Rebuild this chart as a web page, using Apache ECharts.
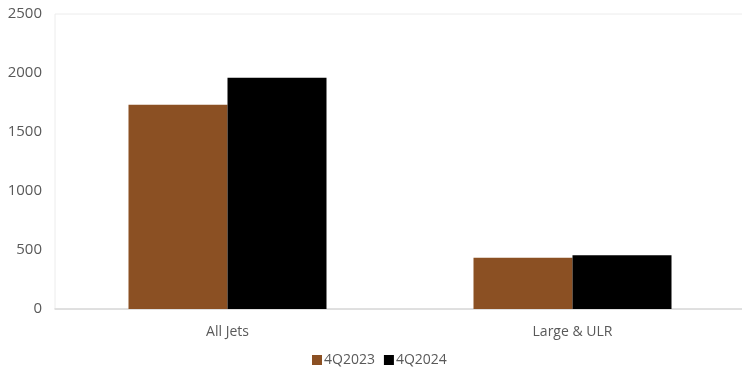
<!DOCTYPE html>
<html>
<head>
<meta charset="utf-8">
<script src="https://cdn.jsdelivr.net/npm/echarts@6/dist/echarts.min.js"></script>
<style>
  html, body { margin: 0; padding: 0; background: #fff; }
  #chart { width: 742px; height: 369px; }
</style>
</head>
<body>
<div id="chart"></div>
<script>
const categories = ["All Jets", "Large & ULR"];
const seriesNames = ["4Q2023", "4Q2024"];
const values2023 = [1730, 435];
const values2024 = [1960, 455];
const yTicks = [0, 500, 1000, 1500, 2000, 2500];

const chart = echarts.init(document.getElementById("chart"));
const font = "'Open Sans', sans-serif";

const option = {
  animation: false,
  textStyle: { fontFamily: font },
  legend: {
    bottom: -3,
    left: 307,
    itemWidth: 10,
    itemHeight: 10,
    itemGap: 9,
    icon: "rect",
    textStyle: { color: "#595959", fontSize: 14, fontFamily: font, padding: [0, 0, 0, -3] },
    data: seriesNames,
  },
  grid: {
    top: 14,
    left: 55,
    right: -3,
    bottom: 60,
    outerBoundsMode: "none",
    show: true,
    borderColor: "#ececec",
    borderWidth: 1,
  },
  xAxis: {
    type: "category",
    data: categories,
    axisLine: { lineStyle: { color: "#d9d9d9", width: 1.5 } },
    axisTick: { show: false },
    axisLabel: { color: "#595959", fontSize: 14, margin: 16, fontFamily: font },
  },
  yAxis: {
    type: "value",
    min: yTicks[0],
    max: yTicks[yTicks.length - 1],
    interval: 500,
    splitLine: { show: false },
    axisLine: { show: false },
    axisTick: { show: false },
    axisLabel: {
      color: "#595959",
      fontSize: 15,
      margin: 13,
      padding: [4, 0, 0, 0],
      fontFamily: font,
      formatter: (v) => String(v),
    },
  },
  series: [
    {
      name: seriesNames[0],
      type: "bar",
      data: values2023,
      barWidth: 99,
      barGap: "0%",
      itemStyle: { color: "#8b5023" },
    },
    {
      name: seriesNames[1],
      type: "bar",
      data: values2024,
      barWidth: 99,
      itemStyle: { color: "#000000" },
    },
  ],
};

chart.setOption(option);
</script>
</body>
</html>
